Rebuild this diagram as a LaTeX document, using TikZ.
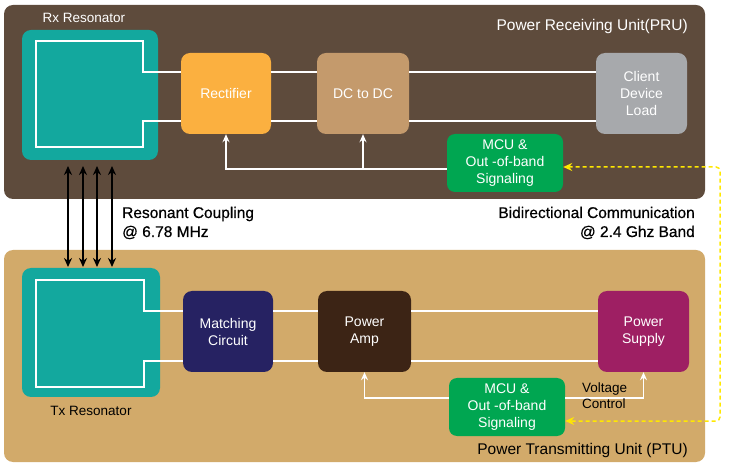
\documentclass[tikz,border=0pt]{standalone}
\usepackage{fontspec}
\setmainfont{Liberation Sans}
\newfontfamily\medfont[FakeBold=0.6]{Liberation Sans}
\usetikzlibrary{arrows.meta}
\definecolor{pruBg}{HTML}{5E4B3C}
\definecolor{ptuBg}{HTML}{D2AA6A}
\definecolor{tealC}{HTML}{13A89E}
\definecolor{rectC}{HTML}{FBB040}
\definecolor{dcC}{HTML}{C49A6C}
\definecolor{clientC}{HTML}{A7A9AC}
\definecolor{mcuC}{HTML}{00A651}
\definecolor{matchC}{HTML}{262262}
\definecolor{paC}{HTML}{3C2415}
\definecolor{supC}{HTML}{9E1F63}
\definecolor{yelC}{HTML}{FFE800}
\tikzset{
  unitbox/.style={rounded corners=9pt},
  blockbox/.style={rounded corners=9pt, align=center, text=white,
    font=\fontsize{14}{17}\selectfont, inner sep=0pt},
  wire/.style={draw=white, line width=1.5pt},
  fbwire/.style={draw=white, line width=1.5pt, -{Stealth[length=8pt,width=7pt]}},
  coupling/.style={draw=black, line width=1.7pt, {Stealth[length=9pt,width=8pt]}-{Stealth[length=9pt,width=8pt]}},
  comm/.style={draw=yelC, line width=1.5pt, dash pattern=on 4pt off 3pt,
    {Stealth[length=9pt,width=8pt]}-{Stealth[length=9pt,width=8pt]}, rounded corners=4pt},
  lbl/.style={inner sep=0pt, font=\fontsize{13.5}{16}\selectfont},
  biglbl/.style={inner sep=0pt, font=\medfont\fontsize{15.5}{19}\selectfont},
}
\begin{document}
\begin{tikzpicture}[x=1pt,y=-1pt]
\useasboundingbox (0,0) rectangle (734,470);
% unit backgrounds
\fill[pruBg, unitbox] (4,5) rectangle (705,199);
\fill[ptuBg, unitbox] (4,250) rectangle (705,462);
\node[lbl, anchor=base east, text=white, font=\fontsize{15.5}{19}\selectfont] (prulbl) at (688,31) {Power Receiving Unit(PRU)};
\node[lbl, anchor=base east, text=black, font=\fontsize{15.5}{19}\selectfont] (ptulbl) at (688,454) {Power Transmitting Unit (PTU)};

% ---------- PRU ----------
\node[fill=tealC, rounded corners=9pt, minimum width=136pt, minimum height=130pt, inner sep=0pt] (rx) at (90,95) {};
\node[lbl, anchor=base, text=white] (rxlbl) at (84,23) {Rx Resonator};
\node[blockbox, fill=rectC, minimum width=90pt, minimum height=81pt] (rect) at (226,93.5) {Rectifier};
\node[blockbox, fill=dcC, minimum width=92pt, minimum height=81pt] (dc) at (363,93.5) {DC to DC};
\node[blockbox, fill=clientC, minimum width=91pt, minimum height=81pt] (client) at (641.5,93.5) {Client\\Device\\Load};
\node[blockbox, fill=mcuC, minimum width=116pt, minimum height=58pt, rounded corners=8pt] (mcur) at (505,163) {MCU \&\\Out -of-band\\Signaling};

\coordinate (rxA) at (143,72);
\coordinate (rxB) at (143,121);
\draw[wire] (rect.west |- rxA) -- (rxA) -- (143,41) -- (36,41) -- (36,147) -- (143,147) -- (rxB) -- (rect.west |- rxB);
\draw[wire] (rect.east |- rxA) -- (dc.west |- rxA);
\draw[wire] (rect.east |- rxB) -- (dc.west |- rxB);
\draw[wire] (dc.east |- rxA) -- (client.west |- rxA);
\draw[wire] (dc.east |- rxB) -- (client.west |- rxB);
\coordinate (fbr) at (447,169);
\draw[fbwire] (mcur.west |- fbr) -- (rect.south |- fbr) -- (rect.south);
\draw[fbwire] (dc.south |- fbr) -- (dc.south);

% ---------- PTU ----------
\node[fill=tealC, rounded corners=9pt, minimum width=138pt, minimum height=129pt, inner sep=0pt] (tx) at (91,332.5) {};
\node[lbl, anchor=base, text=black] (txlbl) at (91,415) {Tx Resonator};
\node[blockbox, fill=matchC, minimum width=90pt, minimum height=81pt] (match) at (228,331.5) {Matching\\Circuit};
\node[blockbox, fill=paC, minimum width=93pt, minimum height=81pt] (pa) at (364.5,331.5) {Power\\Amp};
\node[blockbox, fill=supC, minimum width=91pt, minimum height=81pt] (sup) at (643.5,331.5) {Power\\Supply};
\node[blockbox, fill=mcuC, minimum width=116pt, minimum height=58pt, rounded corners=8pt] (mcut) at (507,407) {MCU \&\\Out -of-band\\Signaling};

\coordinate (txA) at (144,311);
\coordinate (txB) at (144,361);
\draw[wire] (match.west |- txA) -- (txA) -- (144,280) -- (36,280) -- (36,387) -- (144,387) -- (txB) -- (match.west |- txB);
\draw[wire] (match.east |- txA) -- (pa.west |- txA);
\draw[wire] (match.east |- txB) -- (pa.west |- txB);
\draw[wire] (pa.east |- txA) -- (sup.west |- txA);
\draw[wire] (pa.east |- txB) -- (sup.west |- txB);
\coordinate (fbt) at (449,398);
\draw[fbwire] (mcut.west |- fbt) -- (pa.south |- fbt) -- (pa.south);
\draw[fbwire] (mcut.east |- fbt) -- (sup.south |- fbt) -- (sup.south);
\node[lbl, anchor=base west, align=left, font=\fontsize{13.5}{17}\selectfont] (vc) at (582,392) {Voltage};
\node[lbl, anchor=base west, align=left, font=\fontsize{13.5}{17}\selectfont] (vc2) at (582,409) {Control};

% ---------- coupling ----------
\foreach \xx/\nm in {68/a,83/b,97/c,112/d}{
  \coordinate (ct\nm) at (\xx,166);
  \coordinate (cb\nm) at (\xx,267);
  \draw[coupling] (ct\nm) -- (cb\nm);
}
\node[biglbl, anchor=base west] (rc1) at (122,218) {Resonant Coupling};
\node[biglbl, anchor=base west] (rc2) at (122,237) {@ 6.78 MHz};
\node[biglbl, anchor=base east] (bc1) at (695,218) {Bidirectional Communication};
\node[biglbl, anchor=base east] (bc2) at (695,237) {@ 2.4 Ghz Band};

% ---------- communication link ----------
\coordinate (yA) at (720,167);
\coordinate (yB) at (720,421);
\draw[comm] (mcur.east |- yA) -- (yA) -- (yB) -- (mcut.east |- yB);
\end{tikzpicture}
\end{document}
